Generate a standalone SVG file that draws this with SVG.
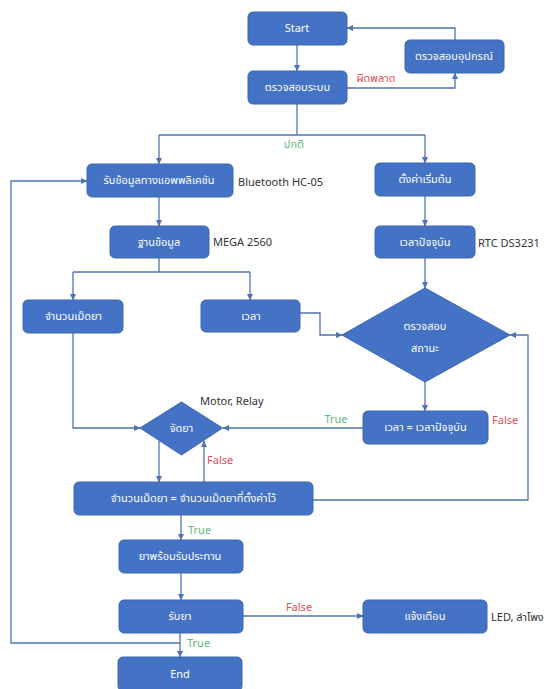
<svg xmlns="http://www.w3.org/2000/svg" width="549" height="689" viewBox="0 0 549 689">
<defs>
<marker id="arr" markerWidth="7" markerHeight="7" refX="6" refY="3.5" orient="auto" markerUnits="userSpaceOnUse">
<path d="M0,0.5 L6.5,3.5 L0,6.5 z" fill="#4F74B3"/>
</marker>
</defs>
<style>
.box{fill:#4472C4;stroke:#3B66B2;stroke-width:1}
.t{font-family:"Noto Sans Thai","Noto Sans","Open Sans",sans-serif;font-size:11px;fill:#ffffff;text-anchor:middle;dominant-baseline:central}
.lab{font-family:"Noto Sans Thai","Noto Sans","Open Sans",sans-serif;font-size:11px;fill:#333333;dominant-baseline:central}
.g{font-family:"Noto Sans Thai","Noto Sans","Open Sans",sans-serif;font-size:11px;fill:#5DBB7E;dominant-baseline:central}
.r{font-family:"Noto Sans Thai","Noto Sans","Open Sans",sans-serif;font-size:11px;fill:#E0505A;dominant-baseline:central}
.c{fill:none;stroke:#4F74B3;stroke-width:1.3}
.ca{fill:none;stroke:#4F74B3;stroke-width:1.3;marker-end:url(#arr)}
</style>
<rect width="549" height="689" fill="#ffffff"/>
<g id="connectors">
<path class="ca" d="M297,45 V71"/>
<path class="ca" d="M347,88 H455 V73"/>
<path class="ca" d="M455,40 V28 H347"/>
<path class="c" d="M297,104 V135"/>
<path class="c" d="M159,135 H425"/>
<path class="ca" d="M159,135 V164"/>
<path class="ca" d="M425,135 V163"/>
<path class="ca" d="M159,197 V226"/>
<path class="c" d="M159,258 V272"/>
<path class="c" d="M73,272 H250"/>
<path class="ca" d="M73,272 V300"/>
<path class="ca" d="M250,272 V300"/>
<path class="ca" d="M425,196 V226"/>
<path class="ca" d="M425,258 V288"/>
<path class="ca" d="M300,313 H320 V335 H342"/>
<path class="ca" d="M73,333 V428 H140"/>
<path class="ca" d="M425,382 V411"/>
<path class="ca" d="M363,428 H223"/>
<path class="ca" d="M159,441 V482"/>
<path class="ca" d="M204,482 V441"/>
<path class="ca" d="M313,500 H528 V335 H510"/>
<path class="ca" d="M181,515 V540"/>
<path class="ca" d="M181,573 V600"/>
<path class="ca" d="M243,616 H363"/>
<path class="ca" d="M180,633 V657"/>
<path class="ca" d="M180,643 H11 V181 H87"/>
<text class="r" x="376" y="78" text-anchor="middle">ผิดพลาด</text>
<text class="g" x="294" y="144" text-anchor="middle">ปกติ</text>
<text class="g" x="336" y="419" text-anchor="middle">True</text>
<text class="r" x="492" y="420">False</text>
<text class="r" x="207" y="460">False</text>
<text class="g" x="188" y="530">True</text>
<text class="r" x="299" y="607" text-anchor="middle">False</text>
<text class="g" x="187" y="643">True</text>
</g>
<g id="start"><rect class="box" x="248" y="12" width="99" height="33" rx="5"/><text class="t" x="297" y="28.5">Start</text></g>
<g id="check_system"><rect class="box" x="248" y="71" width="99" height="33" rx="5"/><text class="t" x="297.5" y="87.5">ตรวจสอบระบบ</text></g>
<g id="check_device"><rect class="box" x="405" y="40" width="99" height="33" rx="5"/><text class="t" x="454" y="56.5">ตรวจสอบอุปกรณ์</text></g>
<g id="receive_app"><rect class="box" x="87" y="164" width="146" height="33" rx="5"/><text class="t" x="159" y="180.5">รับข้อมูลทางแอพพลิเคชัน</text><text class="lab" x="238" y="182">Bluetooth HC-05</text></g>
<g id="init"><rect class="box" x="375" y="163" width="100" height="33" rx="5"/><text class="t" x="425" y="179.5">ตั้งค่าเริ่มต้น</text></g>
<g id="database"><rect class="box" x="110" y="226" width="99" height="32" rx="5"/><text class="t" x="159" y="242">ฐานข้อมูล</text><text class="lab" x="213" y="242">MEGA 2560</text></g>
<g id="current_time"><rect class="box" x="375" y="226" width="100" height="32" rx="5"/><text class="t" x="425" y="242">เวลาปัจจุบัน</text><text class="lab" x="478" y="243">RTC DS3231</text></g>
<g id="pill_count"><rect class="box" x="23" y="300" width="100" height="33" rx="5"/><text class="t" x="73.5" y="316.5">จำนวนเม็ดยา</text></g>
<g id="time"><rect class="box" x="201" y="300" width="99" height="32" rx="5"/><text class="t" x="251" y="316">เวลา</text></g>
<g id="check_status"><path class="box" d="M425,288 L510,335 L425,382 L342,335 Z"/><text class="t" x="425" y="326">ตรวจสอบ</text><text class="t" x="425" y="348">สถานะ</text></g>
<g id="dispense"><path class="box" d="M181.5,402 L222.5,428 L181.5,455 L140,428 Z"/><text class="t" x="181.5" y="428.5">จัดยา</text><text class="lab" x="200" y="401">Motor, Relay</text></g>
<g id="time_equal"><rect class="box" x="363" y="411" width="125" height="33" rx="5"/><text class="t" x="425.5" y="427.5">เวลา = เวลาปัจจุบัน</text></g>
<g id="count_equal"><rect class="box" x="74" y="482" width="239" height="33" rx="5"/><text class="t" x="193.5" y="498.5">จำนวนเม็ดยา = จำนวนเม็ดยาที่ตั้งค่าไว้</text></g>
<g id="ready"><rect class="box" x="119" y="540" width="124" height="33" rx="5"/><text class="t" x="180" y="556.5">ยาพร้อมรับประทาน</text></g>
<g id="take"><rect class="box" x="119" y="600" width="124" height="33" rx="5"/><text class="t" x="180" y="616.5">รับยา</text></g>
<g id="alert"><rect class="box" x="363" y="600" width="124" height="33" rx="5"/><text class="t" x="425" y="616.5">แจ้งเตือน</text><text class="lab" x="491" y="617">LED, ลำโพง</text></g>
<g id="end"><rect class="box" x="118" y="657" width="124" height="34" rx="5"/><text class="t" x="180" y="674">End</text></g>
</svg>
